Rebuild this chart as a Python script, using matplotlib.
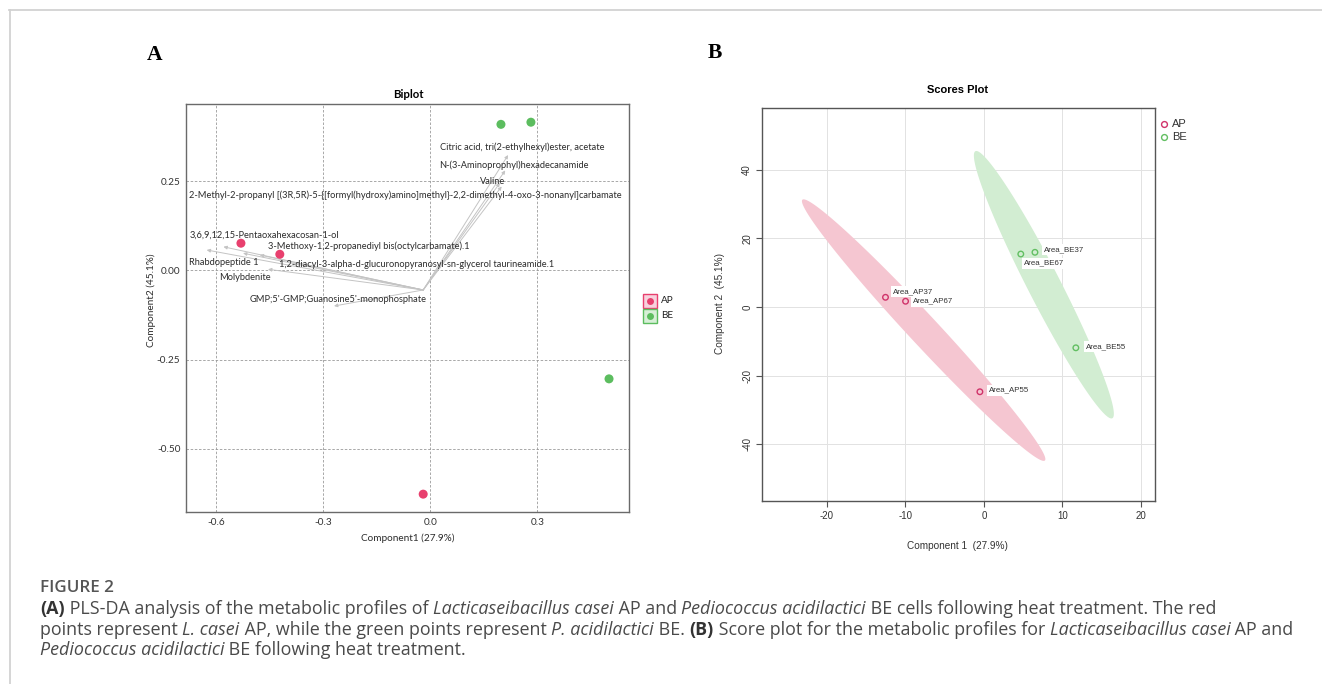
import numpy as np
import matplotlib
matplotlib.use("Agg")
import matplotlib.pyplot as plt
from matplotlib.lines import Line2D

plt.rcParams["axes.unicode_minus"] = False

# ---------------- Data: panel A (PLS-DA biplot) ----------------
groups = ["AP", "BE"]
biplot_ap_x = [-0.531, -0.422, -0.020]
biplot_ap_y = [0.076, 0.045, -0.627]
biplot_be_x = [0.198, 0.282, 0.501]
biplot_be_y = [0.409, 0.415, -0.304]

loading_names = [
    "Citric acid, tri(2-ethylhexyl)ester, acetate",
    "N-(3-Aminoprophyl)hexadecanamide",
    "Valine",
    "2-Methyl-2-propanyl [(3R,5R)-5-{[formyl(hydroxy)amino]methyl}-2,2-dimethyl-4-oxo-3-nonanyl]carbamate",
    "3,6,9,12,15-Pentaoxahexacosan-1-ol",
    "3-Methoxy-1,2-propanediyl bis(octylcarbamate).1",
    "Rhabdopeptide 1",
    "1,2-diacyl-3-alpha-d-glucuronopyranosyl-sn-glycerol taurineamide.1",
    "Molybdenite",
    "GMP;5'-GMP;Guanosine5'-monophosphate",
]
loading_x = [0.218, 0.210, 0.195, 0.200, -0.627, -0.580, -0.525, -0.478, -0.455, -0.270]
loading_y = [0.323, 0.280, 0.245, 0.235, 0.057, 0.066, 0.048, 0.043, 0.003, -0.100]
loading_origin = (-0.020, -0.055)
# label anchors (left edge, vertical centre) in data units
label_x = [0.027, 0.025, 0.139, -0.676, -0.676, -0.456, -0.676, -0.424, -0.592, -0.508]
label_y = [0.346, 0.295, 0.248, 0.211, 0.098, 0.068, 0.022, 0.016, -0.019, -0.083]

biplot_xticks = [-0.6, -0.3, 0.0, 0.3]
biplot_xticklabels = ["-0.6", "-0.3", "0.0", "0.3"]
biplot_yticks = [0.25, 0.00, -0.25, -0.50]
biplot_yticklabels = ["0.25", "0.00", "-0.25", "-0.50"]

# ---------------- Data: panel B (scores plot) ----------------
score_ap_names = ["Area_AP37", "Area_AP67", "Area_AP55"]
score_ap_x = [-12.5, -9.95, -0.5]
score_ap_y = [2.8, 1.65, -24.7]
score_be_names = ["Area_BE37", "Area_BE67", "Area_BE55"]
score_be_x = [6.5, 4.7, 11.7]
score_be_y = [15.9, 15.4, -11.9]

scores_xticks = [-20, -10, 0, 10, 20]
scores_yticks = [-40, -20, 0, 20, 40]

# ---------------- Layout / style ----------------
W, H = 1322, 684
fig = plt.figure(figsize=(W / 100, H / 100), dpi=100)
fig.patch.set_facecolor("white")


def fx(px):
    return px / W


def fy(py):
    return 1 - py / H


PINK = "#e8406e"
GREEN = "#5cbd5f"
AP_B = "#d0336a"
BE_B = "#62bf62"
FONT_A = "Lato"
FONT_B = "Liberation Sans"

# figure frame lines
fig.add_artist(Line2D([fx(9), 1.0], [fy(10), fy(10)], color="#d2d2d2", lw=1.3, transform=fig.transFigure))
fig.add_artist(Line2D([fx(9.5), fx(9.5)], [fy(10), 0.0], color="#d2d2d2", lw=1.3, transform=fig.transFigure))

# panel letters
fig.text(fx(155), fy(55), "A", family="Liberation Serif", weight="bold", fontsize=15.5, ha="center", va="center")
fig.text(fx(715), fy(53), "B", family="Liberation Serif", weight="bold", fontsize=15.5, ha="center", va="center")

# ================= Panel A =================
axA = fig.add_axes([fx(186), fy(512), 443 / W, 408 / H])
axA.set_xlim(-0.685, 0.557)
axA.set_ylim(-0.677, 0.466)
axA.set_xticks(biplot_xticks)
axA.set_xticklabels(biplot_xticklabels)
axA.set_yticks(biplot_yticks)
axA.set_yticklabels(biplot_yticklabels)
axA.tick_params(length=0, pad=4, labelsize=7.2, labelcolor="#333333")
for lab in axA.get_xticklabels() + axA.get_yticklabels():
    lab.set_family(FONT_A)
axA.grid(True, color="#9a9a9a", lw=0.6, ls=(0, (3, 2)))
axA.set_axisbelow(True)
for sp in axA.spines.values():
    sp.set_color("#6a6a6a")
    sp.set_linewidth(1.0)

for name, lx, ly, tx, ty in zip(loading_names, loading_x, loading_y, label_x, label_y):
    axA.annotate("", xy=(lx, ly), xytext=loading_origin,
                 arrowprops=dict(arrowstyle="-|>", color="#c4c4c4", lw=0.7,
                                 mutation_scale=5, shrinkA=0, shrinkB=0), zorder=2)
    axA.text(tx, ty, name, family=FONT_A, fontsize=6.7, color="#2b2b2b",
             ha="left", va="center", zorder=4)

axA.scatter(biplot_ap_x, biplot_ap_y, s=42, color=PINK, edgecolors="none", zorder=5)
axA.scatter(biplot_be_x, biplot_be_y, s=42, color=GREEN, edgecolors="none", zorder=5)

fig.text(fx(408), fy(94), "Biplot", family=FONT_A, weight="bold", fontsize=8.2, ha="center", va="center")
fig.text(fx(408), fy(538), "Component1 (27.9%)", family=FONT_A, fontsize=7.2, color="#2b2b2b",
         ha="center", va="center")
fig.text(fx(151), fy(300), "Component2 (45.1%)", family=FONT_A, fontsize=7.2, color="#2b2b2b",
         ha="center", va="center", rotation=90)

# legend A (manual)
for i, (g, c, light) in enumerate(zip(groups, [PINK, GREEN], ["#f7d2dd", "#d7efd7"])):
    yy = fy(300.5 + 15 * i)
    fig.add_artist(Line2D([fx(649.5)], [yy], marker="s", markersize=9.5, markerfacecolor=light,
                          markeredgecolor=c, markeredgewidth=1.0, transform=fig.transFigure))
    fig.add_artist(Line2D([fx(649.5)], [yy], marker="o", markersize=5, markerfacecolor=c,
                          markeredgecolor="none", transform=fig.transFigure))
    fig.text(fx(661), yy, g, family=FONT_A, fontsize=7.2, ha="left", va="center", color="#222222")

# ================= Panel B =================
axB = fig.add_axes([fx(762), fy(501), 393.3 / W, 393.3 / H])
axB.set_xlim(-28.2, 21.8)
axB.set_ylim(-56.5, 58.0)
axB.set_xticks(scores_xticks)
axB.set_yticks(scores_yticks)
axB.tick_params(direction="out", length=4, width=0.8, color="#555555", pad=3,
                labelsize=7, labelcolor="#333333")
for lab in axB.get_xticklabels() + axB.get_yticklabels():
    lab.set_family(FONT_B)
for lab in axB.get_yticklabels():
    lab.set_rotation(90)
    lab.set_va("center")
axB.grid(True, color="#e2e2e2", lw=0.7)
axB.set_axisbelow(True)
for sp in axB.spines.values():
    sp.set_color("#555555")
    sp.set_linewidth(1.0)

chi_scale = np.sqrt(-2 * np.log(0.05))  # 95% region, 2 dof


def conf_ellipse(xs, ys):
    pts = np.column_stack([xs, ys])
    mu = pts.mean(axis=0)
    cov = np.cov(pts, rowvar=False)
    vals, vecs = np.linalg.eigh(cov)
    t = np.linspace(0, 2 * np.pi, 200)
    circ = np.column_stack([np.cos(t), np.sin(t)])
    return mu + chi_scale * (circ * np.sqrt(vals)) @ vecs.T


for xs, ys, fc in [(score_ap_x, score_ap_y, "#f5c6d1"), (score_be_x, score_be_y, "#d2edd2")]:
    e = conf_ellipse(xs, ys)
    axB.fill(e[:, 0], e[:, 1], color=fc, lw=0, zorder=1)

axB.scatter(score_ap_x, score_ap_y, s=16, facecolors="none", edgecolors=AP_B, linewidths=1.0, zorder=4)
axB.scatter(score_be_x, score_be_y, s=16, facecolors="none", edgecolors=BE_B, linewidths=1.0, zorder=4)

label_offsets_ap = [(5.5, 4.3), (5.0, 0.0), (6.5, 1.2)]
label_offsets_be = [(6.5, 1.9), (2.0, -6.5), (7.0, 0.7)]
for names, xs, ys, offs in [(score_ap_names, score_ap_x, score_ap_y, label_offsets_ap),
                            (score_be_names, score_be_x, score_be_y, label_offsets_be)]:
    for n, x, y, o in zip(names, xs, ys, offs):
        axB.annotate(n, (x, y), xytext=o, textcoords="offset points", family=FONT_B,
                     fontsize=5.7, color="#333333", ha="left", va="center", zorder=3,
                     bbox=dict(boxstyle="square,pad=0.25", fc="white", ec="none"))

fig.text(fx(958), fy(90), "Scores Plot", family=FONT_B, weight="bold", fontsize=8, ha="center", va="center")
fig.text(fx(957), fy(546), "Component 1  (27.9%)", family=FONT_B, fontsize=7.2, color="#333333",
         ha="center", va="center")
fig.text(fx(720), fy(304), "Component 2  (45.1%)", family=FONT_B, fontsize=7.2, color="#333333",
         ha="center", va="center", rotation=90)

for i, (g, c) in enumerate(zip(groups, [AP_B, BE_B])):
    yy = fy(124 + 12.7 * i)
    fig.add_artist(Line2D([fx(1164.3)], [yy], marker="o", markersize=4.2, markerfacecolor="none",
                          markeredgecolor=c, markeredgewidth=1.0, transform=fig.transFigure))
    fig.text(fx(1172), yy, g, family=FONT_B, fontsize=8, color="#333333", ha="left", va="center")

# ================= Caption =================
renderer = fig.canvas.get_renderer()
CAP = "Open Sans"
CAP_COLOR = "#4a4a4a"


def seg_width(s, size, style, weight):
    t1 = fig.text(0, 0, "|" + s + "|", family=CAP, fontsize=size, style=style, weight=weight)
    t2 = fig.text(0, 0, "||", family=CAP, fontsize=size, style=style, weight=weight)
    w = t1.get_window_extent(renderer).width - t2.get_window_extent(renderer).width
    t1.remove()
    t2.remove()
    return w


def style_of(kind):
    return ("italic" if kind == "i" else "normal"), ("bold" if kind == "b" else "normal")


caption_lines = [
    [("(A)", "b"), (" PLS-DA analysis of the metabolic profiles of ", "n"), ("Lacticaseibacillus casei", "i"),
     (" AP and ", "n"), ("Pediococcus acidilactici", "i"), (" BE cells following heat treatment. The red", "n")],
    [("points represent ", "n"), ("L. casei", "i"), (" AP, while the green points represent ", "n"),
     ("P. acidilactici", "i"), (" BE. ", "n"), ("(B)", "b"), (" Score plot for the metabolic profiles for ", "n"),
     ("Lacticaseibacillus casei", "i"), (" AP and", "n")],
    [("Pediococcus acidilactici", "i"), (" BE following heat treatment.", "n")],
]

# fit caption size so that the longest line ends near the right of the frame
base = 10.0
wmax = max(sum(seg_width(s, base, *style_of(k)) for s, k in line) for line in caption_lines)
cap_size = base * 1252.0 / wmax

fig.text(fx(40), fy(588), "FIGURE 2", family=CAP, weight="semibold", fontsize=cap_size * 0.95,
         color="#555555", ha="left", va="center")
for li, (line, ypx) in enumerate(zip(caption_lines, [609, 630, 650])):
    x = 40.0
    for s, k in line:
        st, wt = style_of(k)
        fig.text(fx(x), fy(ypx), s, family=CAP, fontsize=cap_size, style=st, weight=wt,
                 color="#333333" if k == "b" else CAP_COLOR, ha="left", va="center")
        x += seg_width(s, cap_size, st, wt)

fig.savefig("out.png", dpi=100, facecolor="white")
